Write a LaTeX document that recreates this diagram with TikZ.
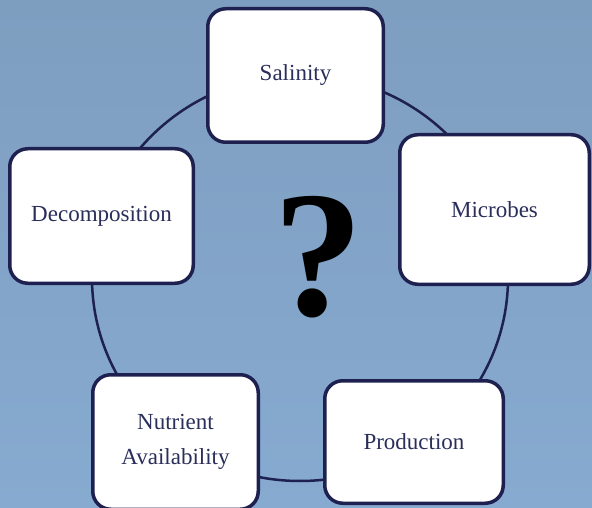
\documentclass[tikz,border=0pt]{standalone}
\usepackage{fontspec}
\setmainfont{Liberation Serif}
\definecolor{bgtop}{HTML}{7E9EC0}
\definecolor{bgbot}{HTML}{87AAD0}
\definecolor{navy}{HTML}{1E2150}
\definecolor{txt}{HTML}{2A2E5A}
\begin{document}
\begin{tikzpicture}[x=1pt,y=-1pt,
  box/.style={draw=navy, line width=3.5pt, fill=white, rounded corners=18pt,
    text=txt, font=\fontsize{23}{35}\selectfont, align=center, inner sep=0pt},
  ring/.style={draw=navy, line width=2.5pt}]
\useasboundingbox (0,0) rectangle (592,508);
\clip (0,0) rectangle (592,508);
\shade[top color=bgtop, bottom color=bgbot] (0,0) rectangle (592,508);
\draw[ring] (300,278) ellipse [x radius=208, y radius=203];
\node[box, minimum width=175.5pt, minimum height=133.5pt] (sal) at (295.5,75.5) {Salinity};
\node[box, minimum width=189.5pt, minimum height=149.5pt] (mic) at (494.5,209.5) {Microbes};
\node[box, minimum width=183.5pt, minimum height=134.5pt] (dec) at (101.5,216) {Decomposition};
\node[box, minimum width=165.5pt, minimum height=134.5pt] (nut) at (175.5,442) {Nutrient\\Availability};
\node[box, minimum width=178.5pt, minimum height=122.5pt] (pro) at (414,442) {Production};
\node[inner sep=0pt, font=\fontsize{180}{180}\selectfont\bfseries] (q) at (318,257) {?};
\end{tikzpicture}
\end{document}
